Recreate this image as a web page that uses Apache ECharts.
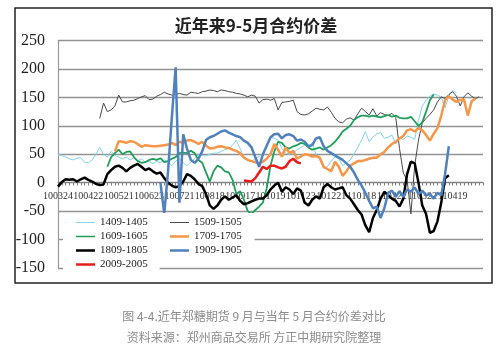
<!DOCTYPE html>
<html>
<head>
<meta charset="utf-8">
<title>近年来9-5月合约价差</title>
<script src="https://cdn.jsdelivr.net/npm/echarts@6/dist/echarts.min.js"></script>
<style>
	html, body { margin: 0; padding: 0; background: #fff; }
	#chart-container { width: 500px; height: 353px; }
</style>
</head>
<body>
<div id="chart-container"></div>
<script>

// x轴标签，每8个点一个
var tickLabels = ['100324','100422','100521','100623','100721','100818','100917',
	'101019','101123','101221','110118','110222','110322','110419'];
var stepsPerLabel = 8;
var pointCount = 113;

var s1409 = [50,48,45,42,40,43,44,36,35,40,
	50,62,50,45,55,48,45,42,45,40,
	44,38,42,36,38,33,38,35,40,36,
	30,38,42,35,30,36,42,50,48,47,
	50,52,52,55,58,60,66,75,60,45,
	40,37,43,46,52,64,80,78,75,60,
	52,50,52,58,62,66,64,70,50,40,
	25,28,38,45,42,30,35,40,50,62,
	75,90,72,80,86,88,78,80,84,68,
	78,76,82,80,76,110,135,145,152,156,
	154,150,132,152,162,158];
var s1409Start = 0;

var s1509 = [113,140,125,128,135,154,142,142,144,145,
	148,151,153,146,147,152,155,159,156,154,
	155,157,155,154,159,158,157,160,161,163,
	162,160,163,162,160,159,157,156,154,151,
	154,152,140,146,147,145,148,128,141,142,
	143,145,125,120,119,121,126,131,129,128,
	133,124,113,107,105,112,114,110,121,131,
	125,119,130,117,123,120,118,122,115,60,
	17,5,-55,30,75,105,113,120,128,142,
	151,148,155,160,152,135,151,158,152,148,151];
var s1509Start = 11;

var s1609 = [28,45,52,58,50,54,55,45,38,35,
	36,40,42,40,43,36,38,42,45,52,
	53,52,56,52,40,35,18,2,20,30,
	27,20,18,5,-20,-15,-30,-50,-55,-48,
	-42,-35,-10,30,55,72,70,62,60,64,
	66,70,68,62,58,60,62,58,62,66,
	72,80,90,95,100,110,115,118,118,116,
	118,116,115,117,119,116,118,114,113,113,
	116,108,100,106,125,145,155];
var s1609Start = 13;

var s1709 = [55,73,72,70,73,72,68,63,66,65,
	64,64,65,66,67,70,66,72,70,74,
	75,72,68,72,65,60,61,63,64,62,
	61,58,56,52,44,40,38,36,34,37,
	42,50,68,58,46,62,52,56,42,46,
	50,49,46,47,44,28,24,20,37,28,
	12,20,30,34,38,38,40,42,44,44,
	50,54,62,68,72,78,82,92,94,90,
	96,92,84,74,86,96,118,145,152,146,
	142,146,146,118,143,148];
var s1709Start = 15;

var s1809 = [-7,1,6,5,6,2,6,9,5,2,
	-2,-4,-3,15,22,28,30,26,20,26,
	30,33,28,22,25,20,16,18,8,0,
	-5,-8,-6,2,15,12,6,-2,-6,-20,
	-40,-46,-40,-30,-24,-30,-26,-22,-32,-38,
	-36,-33,-30,-28,-28,-22,-12,-5,0,-16,
	-8,-12,-20,-10,-14,-35,-40,-30,-24,-28,
	-8,-2,-8,-12,-10,-8,-22,-28,-38,-48,
	-56,-75,-87,-62,-48,-28,-16,-22,-28,-32,
	-42,-28,15,37,34,0,-40,-55,-88,-85,
	-68,-35,8,13];
var s1809Start = 0;

var s1909 = [0,-55,20,115,203,-35,85,60,40,35,
	42,55,75,80,82,86,90,92,88,85,
	82,80,74,70,62,45,28,50,65,80,
	85,86,78,84,85,82,74,76,72,64,
	66,78,80,64,56,52,48,44,40,34,
	28,18,5,-5,-18,-32,-45,-42,-62,-45,
	-18,-14,-25,-15,-25,-12,-16,-8,-20,-14,
	-22,-20,-28,-18,-22,15,64];
var s1909Start = 27;

var s2009 = [4,3,2,8,18,28,24,30,30,27,25,28,38,42,36,34];
var s2009Start = 49;

var yTicks = { min: -150, max: 250, interval: 50 };

var seriesColors = {
	'1409-1405': '#80d4ee',
	'1509-1505': '#4a4a4a',
	'1609-1605': '#1f9f5a',
	'1709-1705': '#f79646',
	'1809-1805': '#000000',
	'1909-1905': '#4f81bd',
	'2009-2005': '#ea1c1c'
};
var seriesWidths = {
	'1409-1405': 1, '1509-1505': 1, '1609-1605': 1.8, '1709-1705': 2.5,
	'1809-1805': 2.5, '1909-1905': 2.5, '2009-2005': 2.5
};

drawChart();

function placeSeries(start, values) {
	var arr = [];
	for (var i = 0; i < pointCount; i++) {
		var v = values[i - start];
		arr.push(v === undefined ? null : v);
	}
	return arr;
}

function buildCategories() {
	var cats = [];
	for (var i = 0; i < pointCount; i++) {
		cats.push(String(i));
	}
	return cats;
}

function lineSeries(name, data) {
	var color = seriesColors[name];
	return {
		name: name,
		type: 'line',
		data: data,
		symbol: 'none',
		connectNulls: false,
		lineStyle: { color: color, width: seriesWidths[name] },
		itemStyle: { color: color }
	};
}

// 图例：细条 + 透明占位，使线宽与系列一致
function legendItem(name) {
	var w = seriesWidths[name];
	var y0 = (11 - w) / 2;
	return {
		name: name,
		icon: 'path://M0,' + y0 + 'L20,' + y0 + 'L20,' + (y0 + w) + 'L0,' + (y0 + w) + 'Z' +
			'M0,0L0.01,0L0.01,11L0,11Z',
		itemStyle: { color: seriesColors[name], borderWidth: 0 }
	};
}

function drawChart() {

	var myChart = echarts.init(document.getElementById('chart-container'));

	var legendText = { fontSize: 11, fontFamily: 'Liberation Serif', color: '#222' };

	var option = {
		animation: false,
		backgroundColor: '#fff',
		grid: { left: 58, right: 17, top: 40.5, bottom: 85 },
		xAxis: {
			type: 'category',
			boundaryGap: false,
			data: buildCategories(),
			offset: -85.5,
			axisLine: { onZero: false, lineStyle: { color: '#808080', width: 1 } },
			axisTick: { show: true, interval: 0, length: 3, lineStyle: { color: '#808080' } },
			axisLabel: {
				interval: stepsPerLabel - 1,
				margin: 9,
				fontSize: 10,
				fontFamily: 'Liberation Serif',
				color: '#333',
				formatter: function (val, idx) {
					return tickLabels[Math.round(idx / stepsPerLabel)] || '';
				}
			},
			splitLine: { show: false }
		},
		yAxis: {
			type: 'value',
			min: yTicks.min,
			max: yTicks.max,
			interval: yTicks.interval,
			axisLine: { show: true, lineStyle: { color: '#999', width: 1.2 } },
			axisTick: { show: false },
			axisLabel: { margin: 13, fontSize: 16, fontFamily: 'Liberation Serif', color: '#222' },
			splitLine: { lineStyle: { color: '#929292', width: 1.4 } }
		},
		legend: [{
			orient: 'vertical',
			left: 63,
			top: 213,
			padding: [4, 12, 3, 13],
			itemGap: 3,
			itemWidth: 19,
			itemHeight: 11,
			backgroundColor: '#fff',
			textStyle: legendText,
			data: ['1409-1405', '1609-1605', '1809-1805', '2009-2005'].map(legendItem)
		}, {
			orient: 'vertical',
			left: 157,
			top: 213,
			padding: [4, 13, 3, 13],
			itemGap: 3,
			itemWidth: 19,
			itemHeight: 11,
			backgroundColor: '#fff',
			textStyle: legendText,
			data: ['1509-1505', '1709-1705', '1909-1905'].map(legendItem)
		}],
		graphic: [{
			type: 'rect',
			shape: { x: 15, y: 8, width: 477, height: 275 },
			style: { fill: null, stroke: '#222', lineWidth: 1.5 },
			silent: true
		}, {
			type: 'text',
			x: 256, y: 26,
			style: {
				text: '近年来9-5月合约价差',
				align: 'center', verticalAlign: 'middle',
				font: 'bold 17px "Noto Sans CJK SC"',
				fill: '#222'
			}
		}, {
			type: 'text',
			x: 254, y: 316,
			style: {
				text: '图 4-4.近年郑糖期货 9 月与当年 5 月合约价差对比',
				align: 'center', verticalAlign: 'middle',
				font: '12px "Noto Sans CJK SC"',
				fill: '#8c8c8c'
			}
		}, {
			type: 'text',
			x: 254, y: 337,
			style: {
				text: '资料来源：郑州商品交易所 方正中期研究院整理',
				align: 'center', verticalAlign: 'middle',
				font: '12px "Noto Sans CJK SC"',
				fill: '#8c8c8c'
			}
		}],
		series: [
			lineSeries('1409-1405', placeSeries(s1409Start, s1409)),
			lineSeries('1509-1505', placeSeries(s1509Start, s1509)),
			lineSeries('1609-1605', placeSeries(s1609Start, s1609)),
			lineSeries('1709-1705', placeSeries(s1709Start, s1709)),
			lineSeries('1809-1805', placeSeries(s1809Start, s1809)),
			lineSeries('1909-1905', placeSeries(s1909Start, s1909)),
			lineSeries('2009-2005', placeSeries(s2009Start, s2009))
		]
	};

	myChart.setOption(option);
}

</script>
</body>
</html>
